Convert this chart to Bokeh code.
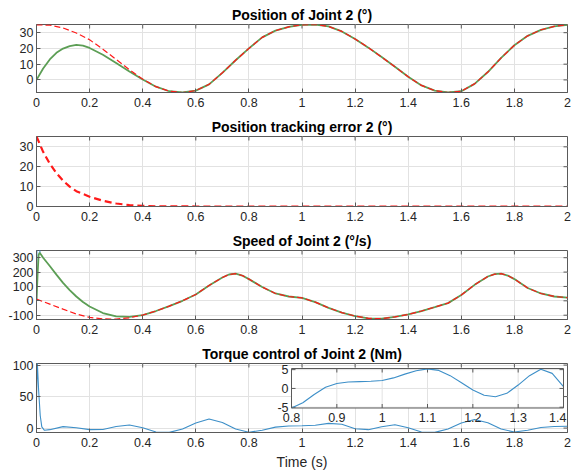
from bokeh.plotting import figure
from bokeh.layouts import column
from bokeh.models import Range1d, FixedTicker, Label
from bokeh.embed import file_html
from bokeh.resources import INLINE

FONT = "Liberation Sans"
FRAME = "#5a5a5a"
GRID = "#e2e2e2"
TICKC = "#262626"
RED = "#ff1a1a"
GREEN = "#5c9e55"
BLUE = "#3d8fc8"

# ---------------- data ----------------
x_ticks = [0, 0.2, 0.4, 0.6, 0.8, 1.0, 1.2, 1.4, 1.6, 1.8, 2.0]
x_tick_labels = ["0", "0.2", "0.4", "0.6", "0.8", "1", "1.2", "1.4", "1.6", "1.8", "2"]

t_grid = [0.0, 0.05, 0.1, 0.15, 0.2, 0.25, 0.3, 0.35, 0.4, 0.45, 0.5, 0.55, 0.6, 0.65, 0.7,
          0.75, 0.8, 0.85, 0.9, 0.95, 1.0, 1.05, 1.1, 1.15, 1.2, 1.25, 1.3, 1.35, 1.4, 1.45,
          1.5, 1.55, 1.6, 1.65, 1.7, 1.75, 1.8, 1.85, 1.9, 1.95, 2.0]

# Position of joint 2 (deg)
pos_desired = [35.0, 34.8, 33.0, 29.8, 25.5, 19.5, 13.0, 6.5, 0.5, -4.3, -7.2, -8.0, -6.8, -2.8,
               4.5, 12.5, 20.0, 27.0, 31.3, 33.7, 35.0, 35.2, 34.0, 30.8, 26.0, 20.5, 14.5, 8.3,
               2.0, -3.5, -6.8, -8.0, -7.2, -2.5, 5.0, 14.0, 22.0, 28.0, 31.8, 34.0, 35.0]
t_pos_actual = [0.0, 0.025, 0.05, 0.075, 0.1, 0.125, 0.15, 0.175, 0.2, 0.25, 0.3, 0.35, 0.4,
                0.45, 0.5, 0.55, 0.6, 0.65, 0.7, 0.75, 0.8, 0.85, 0.9, 0.95, 1.0, 1.05, 1.1,
                1.15, 1.2, 1.25, 1.3, 1.35, 1.4, 1.45, 1.5, 1.55, 1.6, 1.65, 1.7, 1.75, 1.8,
                1.85, 1.9, 1.95, 2.0]
pos_actual = [0.0, 7.2, 13.0, 17.2, 19.9, 21.5, 22.2, 21.8, 20.3, 16.0, 10.8, 5.3, 0.3,
              -4.3, -7.2, -8.0, -6.8, -2.8, 4.5, 12.5, 20.0, 27.0, 31.3, 33.7, 35.0, 35.2, 34.0,
              30.8, 26.0, 20.5, 14.5, 8.3, 2.0, -3.5, -6.8, -8.0, -7.2, -2.5, 5.0, 14.0, 22.0,
              28.0, 31.8, 34.0, 35.0]

# Position tracking error (deg)
t_err = [0.0, 0.025, 0.05, 0.075, 0.1, 0.125, 0.15, 0.2, 0.25, 0.3, 0.35, 0.4, 0.45, 0.5, 0.6,
         0.8, 1.0, 1.2, 1.4, 1.6, 1.8, 2.0]
pos_error = [35.2, 27.5, 21.5, 16.8, 13.0, 10.0, 7.7, 4.9, 2.9, 1.5, 0.7, 0.3, 0.12, 0.05, 0.01,
             0.0, 0.0, 0.0, 0.0, 0.0, 0.0, 0.0]

# Speed of joint 2 (deg/s)
t_spd = [0.0, 0.05, 0.1, 0.15, 0.2, 0.25, 0.3, 0.35, 0.4, 0.45, 0.5, 0.55, 0.6, 0.65, 0.7,
         0.725, 0.75, 0.775, 0.8, 0.85, 0.9, 0.95, 1.0, 1.05, 1.1, 1.15, 1.2, 1.25, 1.3, 1.35,
         1.4, 1.45, 1.5, 1.55, 1.6, 1.65, 1.7, 1.725, 1.75, 1.775, 1.8, 1.85, 1.9, 1.95, 2.0]
spd_desired = [12, -23, -58, -92, -115, -126, -127, -118, -99, -71, -37, 0, 44, 107, 162,
               183, 189, 176, 151, 96, 51, 30, 20, -9, -49, -82, -106, -122, -124, -112,
               -95, -71, -44, -16, 40, 111, 169, 185, 189, 176, 151, 89, 51, 30, 22]
t_spd_actual = [0.0, 0.004, 0.008, 0.012, 0.025, 0.05, 0.075, 0.1, 0.125, 0.15, 0.175, 0.2,
                0.25, 0.3, 0.35, 0.4, 0.45, 0.5, 0.55, 0.6, 0.65, 0.7, 0.725, 0.75, 0.775, 0.8,
                0.85, 0.9, 0.95, 1.0, 1.05, 1.1, 1.15, 1.2, 1.25, 1.3, 1.35, 1.4, 1.45, 1.5,
                1.55, 1.6, 1.65, 1.7, 1.725, 1.75, 1.775, 1.8, 1.85, 1.9, 1.95, 2.0]
spd_actual = [0, 180, 320, 335, 300, 242, 182, 125, 75, 30, -8, -40, -85, -108, -112, -99,
              -71, -37, 0, 44, 107, 162, 183, 189, 176, 151, 96, 51, 30, 20, -9, -49, -82,
              -106, -122, -124, -112, -95, -71, -44, -16, 40, 111, 169, 185, 189, 176, 151,
              89, 51, 30, 22]
t_spd_spike = [0.0, 0.0015, 0.011, 0.013]
spd_spike = [0, 420, 420, 335]

# Torque control (Nm)
t_torque = [0.0, 0.003, 0.008, 0.014, 0.02, 0.03, 0.05, 0.1, 0.15, 0.2, 0.25, 0.3, 0.35, 0.4,
            0.45, 0.5, 0.55, 0.6, 0.65, 0.7, 0.75, 0.8, 0.85, 0.9, 0.95, 1.0, 1.05, 1.1, 1.15,
            1.2, 1.25, 1.3, 1.35, 1.4, 1.45, 1.5, 1.55, 1.6, 1.65, 1.7, 1.75, 1.8, 1.85, 1.9,
            1.95, 2.0]
torque = [45, 105, 60, 20, 2, -3.5, -2.5, 2.3, 0.5, -2.5, -2.2, 2.5, 5.0, 0.5, -6.3, -6.8,
          -1.5, 8.0, 14.5, 9.0, -1.5, -6.5, -3.5, 1.5, 3.2, 3.6, 4.5, 7.5, 6.0, -1.0, -2.5, 2.0,
          5.3, 0.5, -6.3, -6.8, -1.5, 8.0, 13.5, 8.5, -1.5, -6.3, -3.5, 1.0, 2.5, 3.0]

# Inset (zoom of torque)
t_inset = [0.8, 0.825, 0.85, 0.875, 0.9, 0.925, 0.95, 0.975, 1.0, 1.025, 1.05, 1.075, 1.1,
           1.125, 1.15, 1.175, 1.2, 1.225, 1.25, 1.275, 1.3, 1.325, 1.35, 1.375, 1.4]
torque_inset = [-5.2, -3.8, -1.6, 0.3, 1.3, 1.7, 1.8, 1.9, 2.1, 2.8, 3.8, 4.7, 5.2, 4.8, 3.4,
                1.5, -0.4, -1.8, -2.2, -1.3, 0.9, 3.4, 5.1, 4.0, 0.5]
inset_x_ticks = [0.8, 0.9, 1.0, 1.1, 1.2, 1.3, 1.4]
inset_x_labels = ["0.8", "0.9", "1", "1.1", "1.2", "1.3", "1.4"]
inset_y_ticks = [-5, 0, 5]
inset_y_labels = ["-5", "0", "5"]
inset_xlim = (0.8, 1.4)
inset_ylim = (-5.2, 5.3)

TICK_FS = "12.5px"
TITLE_FS = "14px"
FRAME_W = 531  # frame width in px (567 - 36)


def make_fig(height, top, bottom, frame_h, yr, yticks, ylabels, title):
    p = figure(width=579, height=height, x_range=Range1d(0, 2), y_range=Range1d(*yr),
               output_backend="svg", toolbar_location=None,
               min_border_left=36, min_border_right=12,
               min_border_top=top, min_border_bottom=bottom)
    p.title.text = title
    p.title.align = "center"
    p.title.text_font = FONT
    p.title.text_font_size = TITLE_FS
    p.title.text_font_style = "bold"
    p.title.text_color = "black"
    p.title.standoff = 4
    p.outline_line_color = FRAME
    p.background_fill_color = "white"
    p.border_fill_color = "white"
    p.xaxis.ticker = FixedTicker(ticks=x_ticks)
    p.xaxis.major_label_overrides = dict(zip(x_ticks, x_tick_labels))
    p.yaxis.ticker = FixedTicker(ticks=yticks)
    p.yaxis.major_label_overrides = dict(zip(yticks, ylabels))
    for ax in p.axis:
        ax.major_tick_in = 4
        ax.major_tick_out = 0
        ax.minor_tick_line_color = None
        ax.axis_line_color = FRAME
        ax.major_tick_line_color = FRAME
        ax.major_label_text_font = FONT
        ax.major_label_text_font_size = TICK_FS
        ax.major_label_text_color = TICKC
    p.xaxis.major_label_standoff = 5
    p.yaxis.major_label_standoff = 3
    p.xgrid.grid_line_color = GRID
    p.ygrid.grid_line_color = GRID
    # inward tick marks on the top and right edges (box on)
    ytop = yr[1]
    tly = 4 * (yr[1] - yr[0]) / frame_h
    tlx = 4 * 2.0 / FRAME_W
    p.segment(x0=x_ticks, y0=[ytop] * len(x_ticks), x1=x_ticks, y1=[ytop - tly] * len(x_ticks),
              line_color=FRAME, line_width=1)
    p.segment(x0=[2.0] * len(yticks), y0=yticks, x1=[2.0 - tlx] * len(yticks), y1=yticks,
              line_color=FRAME, line_width=1)
    return p


# Panel 1
p1 = make_fig(113, 24, 21, 68, (-8.0, 35.2), [0, 10, 20, 30], ["0", "10", "20", "30"],
              "Position of Joint 2 (°)")
p1.line(t_pos_actual, pos_actual, line_color=GREEN, line_width=1.8)
p1.line(t_grid, pos_desired, line_color=RED, line_width=1.2, line_dash="6 3")

# Panel 2
p2 = make_fig(114, 23, 21, 70, (0.0, 35.2), [0, 10, 20, 30], ["0", "10", "20", "30"],
              "Position tracking error 2 (°)")
p2.line(t_err, pos_error, line_color=RED, line_width=2.2, line_dash="7 4")

# Panel 3
p3 = make_fig(113, 23, 21, 69, (-130, 350), [-100, 0, 100, 200, 300],
              ["-100", "0", "100", "200", "300"], "Speed of Joint 2 (°/s)")
p3.line(t_spd_spike, spd_spike, line_color=BLUE, line_width=1.2)
p3.line(t_spd_actual, spd_actual, line_color=GREEN, line_width=1.8)
p3.line(t_spd, spd_desired, line_color=RED, line_width=1.2, line_dash="6 3")

# Panel 4
p4 = make_fig(133, 23, 41, 69, (-7.0, 102.5), [0, 50, 100], ["0", "50", "100"],
              "Torque control of Joint 2 (Nm)")
xax = p4.below[0]
xax.axis_label = "Time (s)"
xax.axis_label_text_font = FONT
xax.axis_label_text_font_size = "14px"
xax.axis_label_text_font_style = "normal"
xax.axis_label_text_color = TICKC
xax.axis_label_standoff = 4
p4.line(t_torque, torque, line_color=BLUE, line_width=1.1)

# inset placement (pixel layout of panel 4 frame and inset box)
fr_l, fr_r, fr_t, fr_b = 36, 567, 363, 432
in_l, in_r, in_t, in_b = 291, 563, 368, 407.5
sx = (inset_xlim[1] - inset_xlim[0]) / (in_r - in_l)
sy = (inset_ylim[1] - inset_ylim[0]) / (in_b - in_t)
p4.extra_x_ranges = {"ix": Range1d(inset_xlim[0] - (in_l - fr_l) * sx,
                                   inset_xlim[1] + (fr_r - in_r) * sx)}
p4.extra_y_ranges = {"iy": Range1d(inset_ylim[0] - (fr_b - in_b) * sy,
                                   inset_ylim[1] + (in_t - fr_t) * sy)}
kw = dict(x_range_name="ix", y_range_name="iy")
p4.quad(left=[inset_xlim[0]], right=[inset_xlim[1]], bottom=[inset_ylim[0]],
        top=[inset_ylim[1]], fill_color="white", line_color=None, **kw)
gx = inset_x_ticks[1:-1]
p4.segment(x0=gx, y0=[inset_ylim[0]] * len(gx), x1=gx, y1=[inset_ylim[1]] * len(gx),
           line_color=GRID, line_width=1, **kw)
p4.segment(x0=[inset_xlim[0]] * 3, y0=inset_y_ticks, x1=[inset_xlim[1]] * 3, y1=inset_y_ticks,
           line_color=GRID, line_width=1, **kw)
tl_y = 4 * sy
tl_x = 4 * sx
p4.segment(x0=gx, y0=[inset_ylim[0]] * len(gx), x1=gx, y1=[inset_ylim[0] + tl_y] * len(gx),
           line_color=FRAME, **kw)
p4.segment(x0=gx, y0=[inset_ylim[1]] * len(gx), x1=gx, y1=[inset_ylim[1] - tl_y] * len(gx),
           line_color=FRAME, **kw)
p4.segment(x0=[inset_xlim[0]] * 3, y0=inset_y_ticks, x1=[inset_xlim[0] + tl_x] * 3,
           y1=inset_y_ticks, line_color=FRAME, **kw)
p4.segment(x0=[inset_xlim[1]] * 3, y0=inset_y_ticks, x1=[inset_xlim[1] - tl_x] * 3,
           y1=inset_y_ticks, line_color=FRAME, **kw)
p4.line(t_inset, torque_inset, line_color=BLUE, line_width=1.1, **kw)
p4.quad(left=[inset_xlim[0]], right=[inset_xlim[1]], bottom=[inset_ylim[0]],
        top=[inset_ylim[1]], fill_color=None, line_color=FRAME, line_width=1, **kw)

n_lab = len(inset_x_ticks)
for i, (xt, lab) in enumerate(zip(inset_x_ticks, inset_x_labels)):
    last = i == n_lab - 1
    # the last label is right-aligned so that the frame does not cut it
    p4.add_layout(Label(x=xt, y=inset_ylim[0], text=lab, text_font=FONT,
                        text_font_size=TICK_FS, text_color=TICKC,
                        text_align="right" if last else "center",
                        text_baseline="top", y_offset=-5, x_offset=3 if last else 0,
                        level="overlay", **kw))
for yt, lab in zip(inset_y_ticks, inset_y_labels):
    p4.add_layout(Label(x=inset_xlim[0], y=yt, text=lab, text_font=FONT,
                        text_font_size=TICK_FS, text_color=TICKC, text_align="right",
                        text_baseline="middle", x_offset=-3, level="overlay", **kw))

layout = column(p1, p2, p3, p4, spacing=0)
open("out.html", "w").write(file_html(layout, INLINE))
